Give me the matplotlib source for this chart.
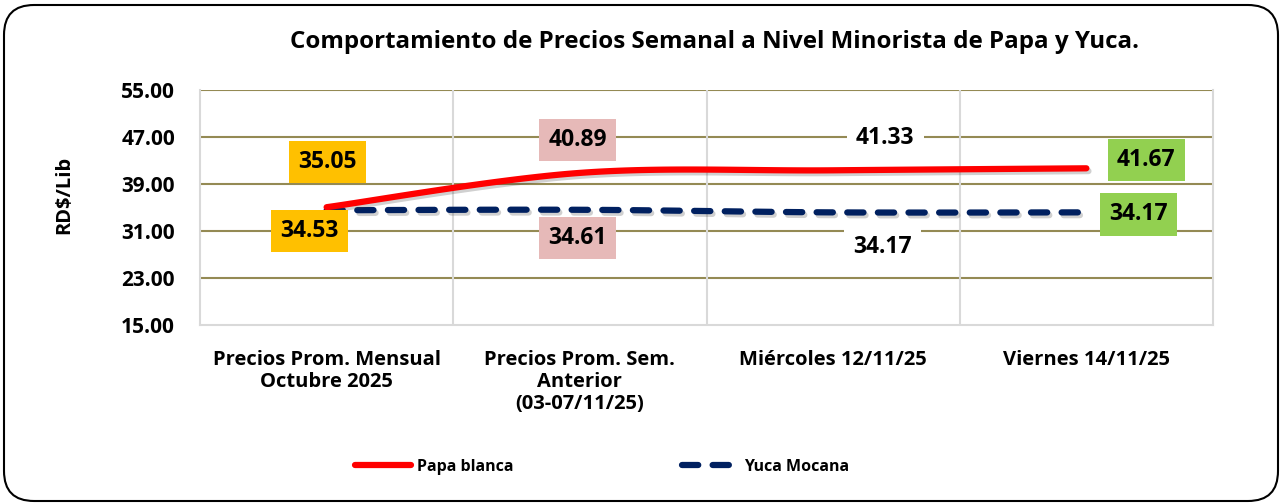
import numpy as np
import matplotlib
matplotlib.use("Agg")
import matplotlib.pyplot as plt
from matplotlib.patches import FancyBboxPatch
import matplotlib.patheffects as pe

categories = ["Precios Prom. Mensual\nOctubre 2025",
              "Precios Prom. Sem.\nAnterior\n(03-07/11/25)",
              "Miércoles 12/11/25",
              "Viernes 14/11/25"]
papa = [35.05, 40.89, 41.33, 41.67]
yuca = [34.53, 34.61, 34.17, 34.17]
yticks = [15, 23, 31, 39, 47, 55]

FONT = ["Open Sans", "DejaVu Sans"]
plt.rcParams['font.family'] = FONT
plt.rcParams['font.weight'] = 'bold'

W, H = 1283, 504
fig = plt.figure(figsize=(W/100, H/100), dpi=100)
ax = fig.add_axes([200/W, 1-325/H, 1013/W, 235/H])

def smooth(xs, ys, n=40):
    P = np.column_stack([xs, ys]).astype(float)
    Pe = np.vstack([P[0], P, P[-1]])
    out = []
    for i in range(len(P)-1):
        p0, p1 = Pe[i+1], Pe[i+2]
        c1 = p0 + (Pe[i+2]-Pe[i])/6
        c2 = p1 - (Pe[i+3]-Pe[i+1])/6
        t = np.linspace(0, 1, n)[:, None]
        seg = (1-t)**3*p0 + 3*(1-t)**2*t*c1 + 3*(1-t)*t**2*c2 + t**3*p1
        out.append(seg if i == 0 else seg[1:])
    s = np.vstack(out)
    return s[:, 0], s[:, 1]

x = np.arange(len(categories))
shadow = [pe.SimpleLineShadow(offset=(1.5, -2), shadow_color='#444444', alpha=0.25), pe.Normal()]

sx, sy = smooth(x, yuca)
ax.plot(sx, sy, color='#002060', lw=4.5, ls=(0, (2.6, 2.3)), dash_capstyle='round',
        solid_capstyle='round', path_effects=shadow, zorder=3, label='Yuca Mocana')
sx, sy = smooth(x, papa)
ax.plot(sx, sy, color='#FF0000', lw=4.5, solid_capstyle='round',
        path_effects=shadow, zorder=4, label='Papa blanca')

ax.set_xlim(-0.5, len(categories)-0.5)
ax.set_ylim(15, 55)
ax.set_yticks(yticks)
ax.set_yticklabels([f"{v:.2f}" for v in yticks])
ax.set_xticks(x)
ax.set_xticklabels(categories, linespacing=1.15)
ax.tick_params(axis='both', length=0)
ax.tick_params(axis='y', pad=18, labelsize=15)
ax.tick_params(axis='x', pad=18, labelsize=14.5)
for v in yticks[1:]:
    ax.axhline(v, color='#948A54', lw=1.5, zorder=1)
for b in np.arange(0.5, len(categories)-0.5, 1):
    ax.axvline(b, color='#D9D9D9', lw=1.5, zorder=1)
for s in ['left', 'right', 'bottom']:
    ax.spines[s].set_color('#D9D9D9')
    ax.spines[s].set_linewidth(1.5)
ax.spines['top'].set_visible(False)

ax.set_ylabel(r"RD\$/Lib", fontsize=14.5, fontweight='bold', labelpad=0)
ax.yaxis.set_label_coords((74-200)/1013, (325-195)/235)

# data labels
box_colors_p = ['#FFC000', '#E6B9B8', None, '#92D050']
offs_p = [(1, 45), (-2, 33), (52, 32), (60, 8)]
offs_y = [(-17, -21), (-2, -28), (49, -35), (52, -2)]
for i in range(len(categories)):
    for vals, offs in ((papa, offs_p), (yuca, offs_y)):
        c = box_colors_p[i]
        bb = dict(boxstyle='square,pad=0.4', fc=c if c else 'white', ec='none')
        ax.annotate(f"{vals[i]:.2f}", xy=(x[i], vals[i]), xytext=offs[i],
                    textcoords='offset pixels', ha='center', va='center',
                    fontsize=16.5, fontweight='bold', bbox=bb, zorder=6)

fig.text(715/W, 1-42/H, "Comportamiento de Precios Semanal a Nivel Minorista de Papa y Yuca.",
         ha='center', va='center', fontsize=17.4, fontweight='bold')

h, l = ax.get_legend_handles_labels()
leg = fig.legend(h[::-1], l[::-1], loc='center', bbox_to_anchor=(602/W, 1-467/H), ncol=2,
                 frameon=False, fontsize=11.5, handlelength=3.5, handletextpad=0.4,
                 columnspacing=10.5)
for t in leg.get_texts():
    t.set_fontweight('bold')
for line in leg.get_lines():
    line.set_path_effects([])

border = FancyBboxPatch((4/W, 3/H), 1274/W, 496/H, boxstyle=f'round,pad=0,rounding_size={30/W}',
                        transform=fig.transFigure, fc='none', ec='black', lw=1.5,
                        mutation_aspect=W/H)
fig.patches.append(border)

fig.savefig("out.png", dpi=100)
